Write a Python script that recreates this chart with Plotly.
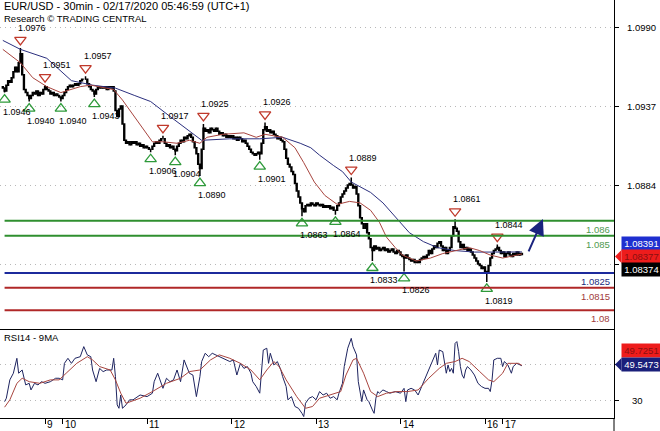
import plotly.graph_objects as go

# ---------------- data ----------------
closes = [
    1.0949, 1.0947, 1.0951, 1.0954, 1.0953, 1.0956, 1.0960, 1.0963, 1.0960, 1.0966,
    1.0972, 1.0958, 1.0948, 1.0946, 1.0944, 1.0942, 1.0944, 1.0946, 1.0945, 1.0947,
    1.0944, 1.0946, 1.0945, 1.0948, 1.0950, 1.0948, 1.0947, 1.0945, 1.0946, 1.0944,
    1.0945, 1.0944, 1.0943, 1.0942, 1.0944, 1.0946, 1.0948, 1.0950, 1.0951, 1.0950,
    1.0951, 1.0952, 1.0951, 1.0952, 1.0954, 1.0955, 1.0955, 1.0955, 1.0952, 1.0950,
    1.0948, 1.0947, 1.0945, 1.0948, 1.0950, 1.0949, 1.0950, 1.0949, 1.0950, 1.0948,
    1.0950, 1.0949, 1.0950, 1.0947, 1.0934, 1.0930, 1.0935, 1.0937, 1.0925, 1.0914,
    1.0912, 1.0913, 1.0911, 1.0913, 1.0912, 1.0913, 1.0911, 1.0912, 1.0910, 1.0911,
    1.0909, 1.0910, 1.0909, 1.0908, 1.0908, 1.0910, 1.0912, 1.0913, 1.0912, 1.0914,
    1.0915, 1.0915, 1.0912, 1.0910, 1.0911, 1.0909, 1.0910, 1.0908, 1.0907, 1.0910,
    1.0912, 1.0914, 1.0913, 1.0916, 1.0915, 1.0917, 1.0918, 1.0916, 1.0913, 1.0909,
    1.0905, 1.0898, 1.0895, 1.0908, 1.0922, 1.0920, 1.0921, 1.0919, 1.0922, 1.0921,
    1.0920, 1.0922, 1.0920, 1.0918, 1.0919, 1.0917, 1.0918, 1.0916, 1.0917, 1.0916,
    1.0917, 1.0915, 1.0916, 1.0914, 1.0916, 1.0915, 1.0913, 1.0914, 1.0912, 1.0910,
    1.0908, 1.0906, 1.0905, 1.0904, 1.0905, 1.0906, 1.0905, 1.0912, 1.0921, 1.0923,
    1.0920, 1.0921, 1.0919, 1.0920, 1.0918, 1.0917, 1.0915, 1.0916, 1.0914, 1.0913,
    1.0908, 1.0902, 1.0898, 1.0896, 1.0893, 1.0891, 1.0885, 1.0880, 1.0876, 1.0872,
    1.0868, 1.0866, 1.0870, 1.0871, 1.0870, 1.0872, 1.0871, 1.0870, 1.0872, 1.0871,
    1.0870, 1.0871, 1.0869, 1.0870, 1.0869, 1.0870, 1.0868, 1.0869, 1.0867, 1.0867,
    1.0870, 1.0872, 1.0876, 1.0878, 1.0880, 1.0882, 1.0884, 1.0885, 1.0884, 1.0882,
    1.0883, 1.0878, 1.0870, 1.0862, 1.0858, 1.0855, 1.0858, 1.0852, 1.0848, 1.0842,
    1.0840, 1.0843, 1.0841, 1.0842, 1.0840, 1.0841, 1.0842, 1.0840, 1.0841, 1.0839,
    1.0840, 1.0841, 1.0839, 1.0838, 1.0840, 1.0839, 1.0837, 1.0836, 1.0835, 1.0837,
    1.0835, 1.0834, 1.0833, 1.0834, 1.0832, 1.0833, 1.0832, 1.0834, 1.0835, 1.0836,
    1.0835, 1.0837, 1.0840, 1.0838, 1.0841, 1.0843, 1.0842, 1.0845, 1.0846, 1.0843,
    1.0840, 1.0842, 1.0838, 1.0840, 1.0842, 1.0850, 1.0856, 1.0855, 1.0853, 1.0846,
    1.0842, 1.0844, 1.0841, 1.0842, 1.0840, 1.0841, 1.0839, 1.0837, 1.0835, 1.0833,
    1.0831, 1.0830, 1.0828, 1.0829, 1.0826, 1.0825, 1.0830, 1.0835, 1.0838, 1.0840,
    1.0841, 1.0842, 1.0840, 1.0838, 1.0839, 1.0836, 1.0838, 1.0839, 1.0837, 1.0836,
    1.0838, 1.0837, 1.0839, 1.0837, 1.0838, 1.08374,
]
first_open = 1.0950

pivot_high_idx = [10, 24, 47, 91, 114, 149, 198, 257, 281]
pivot_high_val = [1.0976, 1.0951, 1.0957, 1.0917, 1.0925, 1.0926, 1.0889, 1.0861, 1.0844]
pivot_low_idx = [1, 15, 33, 52, 84, 98, 112, 146, 170, 189, 210, 228, 275]
pivot_low_val = [1.0946, 1.0940, 1.0940, 1.0943, 1.0906, 1.0904, 1.0890, 1.0901,
                 1.0863, 1.0864, 1.0833, 1.0826, 1.0819]

ma_fast_idx = [0, 10, 17, 25, 33, 38, 44, 50, 55, 63, 68, 74, 82, 85, 91, 99, 106, 112,
               116, 125, 137, 144, 149, 159, 166, 171, 177, 183, 190, 197, 203, 209, 214,
               218, 223, 227, 235, 243, 250, 258, 265, 271, 277, 284, 295]
ma_fast_val = [1.0975, 1.0966, 1.0956, 1.0950, 1.0946, 1.0948, 1.0950, 1.0951, 1.0950,
               1.0948, 1.0941, 1.0931, 1.0918, 1.0913, 1.0913, 1.0912, 1.0914, 1.0912,
               1.0916, 1.0918, 1.0919, 1.0916, 1.0918, 1.0916, 1.0909, 1.0899, 1.0886,
               1.0877, 1.0871, 1.0873, 1.0872, 1.0867, 1.0859, 1.0849, 1.0842, 1.0837,
               1.0833, 1.0835, 1.0838, 1.0840, 1.0842, 1.0840, 1.0837, 1.0835, 1.08377]

ma_slow_idx = [0, 10, 25, 39, 51, 64, 75, 84, 95, 106, 113, 129, 146, 159, 169, 175, 180,
               188, 193, 198, 203, 209, 216, 223, 231, 239, 247, 257, 268, 280, 295]
ma_slow_val = [1.0981, 1.0975, 1.0969, 1.0954, 1.0951, 1.0949, 1.0944, 1.0940, 1.0930,
               1.0920, 1.0914, 1.0915, 1.0915, 1.0916, 1.0912, 1.0909, 1.0904, 1.0897,
               1.0893, 1.0886, 1.0883, 1.0879, 1.0872, 1.0863, 1.0852, 1.0846, 1.0842,
               1.0840, 1.0839, 1.0839, 1.08391]

rsi_idx = [1, 2, 4, 6, 8, 9, 11, 13, 15, 16, 18, 20, 22, 24, 27, 30, 32, 34, 35, 37, 39,
           41, 44, 46, 48, 50, 51, 53, 55, 57, 59, 62, 63, 64, 65, 66, 67, 68, 70, 72, 74,
           78, 82, 85, 86, 88, 91, 93, 95, 97, 99, 101, 103, 104, 106, 108, 110, 112, 113,
           115, 117, 119, 121, 123, 125, 127, 129, 131, 133, 135, 137, 139, 141, 142, 144,
           146, 148, 150, 151, 152, 154, 156, 158, 159, 161, 162, 164, 166, 168, 170, 171,
           172, 174, 176, 178, 180, 182, 184, 186, 188, 190, 191, 193, 194, 196, 198, 199,
           201, 202, 204, 205, 207, 208, 210, 211, 212, 213, 214, 216, 218, 220, 223, 226,
           228, 229, 230, 232, 234, 236, 238, 240, 242, 244, 246, 247, 248, 250, 251, 252,
           253, 254, 255, 256, 257, 258, 259, 260, 261, 262, 263, 264, 266, 268, 270, 272,
           274, 276, 277, 278, 279, 281, 283, 284, 285, 287, 289, 290, 292, 294, 295]
rsi_val = [29.6, 31.5, 41.7, 45.4, 53.7, 45.4, 47.2, 38.9, 39.8, 36.1, 39.8, 38.9, 40.7,
           39.8, 40.7, 42.6, 42.6, 41.7, 50.9, 53.7, 50.9, 53.7, 54.6, 60.2, 55.6, 54.6,
           47.2, 40.7, 48.1, 46.3, 47.2, 47.2, 53.7, 43.5, 27.8, 25.9, 33.3, 25.9, 27.8,
           30.6, 30.6, 33.3, 32.4, 34.3, 40.7, 45.4, 37.0, 42.6, 40.7, 41.7, 47.2, 40.7,
           52.8, 50.0, 45.4, 44.4, 32.4, 43.5, 51.9, 56.5, 54.6, 56.5, 55.6, 54.6, 53.7,
           52.8, 51.9, 52.8, 44.4, 50.9, 48.1, 49.1, 45.4, 40.7, 38.0, 34.3, 58.3, 59.3,
           50.9, 56.5, 50.0, 51.9, 47.2, 43.5, 38.0, 30.6, 32.4, 26.9, 25.9, 23.1, 21.3,
           28.7, 31.5, 32.4, 30.6, 35.2, 33.3, 34.3, 31.5, 32.4, 30.6, 34.3, 39.8, 49.1,
           59.3, 64.8, 60.2, 55.6, 40.7, 29.6, 36.1, 30.6, 29.6, 25.0, 23.1, 31.5, 35.2,
           34.3, 36.1, 35.2, 34.3, 35.2, 34.3, 37.0, 29.6, 36.1, 37.0, 36.1, 33.3, 38.0,
           42.6, 47.2, 50.9, 56.5, 50.0, 58.3, 57.4, 50.9, 45.4, 50.0, 46.3, 48.1, 45.4,
           62.0, 63.0, 57.4, 49.1, 44.4, 42.6, 47.2, 49.1, 47.2, 44.4, 39.8, 38.0, 37.0,
           37.0, 35.2, 41.7, 52.8, 53.7, 53.7, 49.1, 51.9, 50.0, 45.4, 49.1, 50.9, 50.0,
           49.5473]

rsi_ma_idx = [1, 4, 8, 11, 15, 21, 27, 32, 36, 42, 48, 51, 55, 61, 64, 67, 70, 78, 85, 93,
              101, 106, 112, 118, 123, 129, 135, 141, 146, 150, 154, 157, 161, 167, 172,
              176, 180, 186, 192, 195, 199, 201, 205, 209, 213, 218, 224, 230, 236, 242,
              248, 252, 257, 261, 265, 271, 276, 279, 284, 287, 293, 295]
rsi_ma_val = [26.5, 30.6, 39.8, 42.6, 40.7, 39.8, 41.7, 41.7, 45.4, 50.9, 54.6, 52.8, 49.1,
              47.2, 41.7, 34.3, 28.7, 31.5, 35.2, 39.8, 42.6, 46.3, 47.2, 52.8, 55.6, 53.7,
              50.9, 47.2, 41.7, 47.2, 51.9, 49.1, 41.7, 32.4, 25.9, 26.9, 31.5, 33.3, 35.2,
              44.4, 52.8, 53.7, 45.4, 35.2, 32.4, 34.3, 35.2, 35.2, 36.1, 42.6, 48.1, 50.9,
              51.9, 53.7, 51.9, 46.3, 41.7, 40.7, 45.4, 50.9, 50.9, 49.7251]

levels = [1.086, 1.085, 1.0825, 1.0815, 1.08]
level_labels = ["1.086", "1.085", "1.0825", "1.0815", "1.08"]
level_colors = ["#2f8f2f", "#2f8f2f", "#1c2a9c", "#b02828", "#b02828"]
level_text_colors = ["#4f9a4f", "#4f9a4f", "#1c2a7c", "#a03a3a", "#a03a3a"]

day_tick_idx = [24, 34, 82, 130, 178, 226, 274, 284]
day_tick_text = ["9", "10", "11", "12", "13", "14", "16", "17"]

price_ticks = [1.0990, 1.0937, 1.0884, 1.0831]
price_tick_text = ["1.0990", "1.0937", "1.0884", ""]
rsi_ticks = [30, 50]
rsi_tick_text = ["30", ""]

last_slow, last_fast, last_close = 1.08391, 1.08377, 1.08374
rsi_ma_last, rsi_last = 49.7251, 49.5473

arrow_from = (298.4, 1.08384)
arrow_to = (306.9, 1.08612)

title_lines = ["EUR/USD - 30min - 02/17/2020 05:46:59 (UTC+1)", "Research © TRADING CENTRAL"]
rsi_title = "RSI14 - 9MA"

# ---------------- figure ----------------
W, H = 660, 431
ML, MR, MT, MB = 0, 46, 0, 13
PH = H - MT - MB            # plot height (px)
PW = W - ML - MR            # plot width (px)
SPLIT_PX = 329              # separator between panels (px from top)
split = 1 - SPLIT_PX / PH

Y0, Y1 = 1.078739, 1.100812
PX = (Y1 - Y0) / SPLIT_PX   # price per pixel
X0, X1 = -1.6, 347.3

FONT = "Liberation Sans, Arial, sans-serif"
NUM = 9

n = len(closes)
idx = list(range(n))
opens = [first_open] + closes[:-1]
highs = [max(o, c) for o, c in zip(opens, closes)]
lows = [min(o, c) for o, c in zip(opens, closes)]
for i, v in zip(pivot_high_idx, pivot_high_val):
    highs[i] = v
for i, v in zip(pivot_low_idx, pivot_low_val):
    lows[i] = v

fig = go.Figure()

fig.add_trace(go.Candlestick(
    x=idx, open=opens, high=highs, low=lows, close=closes,
    increasing=dict(line=dict(color="black", width=1.5), fillcolor="white"),
    decreasing=dict(line=dict(color="black", width=1.5), fillcolor="black"),
    whiskerwidth=0, xaxis="x", yaxis="y", showlegend=False, hoverinfo="skip"))

fig.add_trace(go.Scatter(x=ma_slow_idx, y=ma_slow_val, mode="lines",
                         line=dict(color="#2b2f7e", width=1), xaxis="x", yaxis="y",
                         showlegend=False, hoverinfo="skip"))
fig.add_trace(go.Scatter(x=ma_fast_idx, y=ma_fast_val, mode="lines",
                         line=dict(color="#a8453f", width=1), xaxis="x", yaxis="y",
                         showlegend=False, hoverinfo="skip"))

# pivot triangles
fig.add_trace(go.Scatter(
    x=pivot_high_idx, y=[v + 8 * PX for v in pivot_high_val], mode="markers",
    marker=dict(symbol="triangle-down-open", size=10, color="#c0392b", line=dict(width=1.3)),
    xaxis="x", yaxis="y", showlegend=False, hoverinfo="skip"))
fig.add_trace(go.Scatter(
    x=pivot_low_idx, y=[v - 7 * PX for v in pivot_low_val], mode="markers",
    marker=dict(symbol="triangle-up-open", size=10, color="#2e9a3a", line=dict(width=1.3)),
    xaxis="x", yaxis="y", showlegend=False, hoverinfo="skip"))

# RSI panel
fig.add_trace(go.Scatter(x=rsi_idx, y=rsi_val, mode="lines",
                         line=dict(color="#1e2460", width=1), xaxis="x2", yaxis="y2",
                         showlegend=False, hoverinfo="skip"))
fig.add_trace(go.Scatter(x=rsi_ma_idx, y=rsi_ma_val, mode="lines",
                         line=dict(color="#a8453f", width=1), xaxis="x2", yaxis="y2",
                         showlegend=False, hoverinfo="skip"))

shapes = []
annotations = []

for lv, lab, col, tcol in zip(levels, level_labels, level_colors, level_text_colors):
    shapes.append(dict(type="line", xref="x", yref="y", x0=1, x1=X1, y0=lv, y1=lv,
                       line=dict(color=col, width=2), layer="above"))
    annotations.append(dict(xref="paper", yref="y", x=612 / PW, y=lv, text=lab,
                            xanchor="right", yanchor="top", yshift=-1, showarrow=False,
                            font=dict(family=FONT, size=NUM + 0.5, color=tcol)))

for i, v in zip(pivot_high_idx, pivot_high_val):
    annotations.append(dict(xref="x", yref="y", x=i, y=v, text=f"{v:.4f}",
                            xanchor="left", yanchor="middle", xshift=-4, yshift=20,
                            showarrow=False, font=dict(family=FONT, size=NUM, color="black")))
for i, v in zip(pivot_low_idx, pivot_low_val):
    annotations.append(dict(xref="x", yref="y", x=i, y=v, text=f"{v:.4f}",
                            xanchor="left", yanchor="middle", xshift=-4, yshift=-19,
                            showarrow=False, font=dict(family=FONT, size=NUM, color="black")))

# title texts
annotations.append(dict(xref="paper", yref="paper", x=2 / PW, y=1 - 6 / PH, text=title_lines[0],
                        xanchor="left", yanchor="middle", showarrow=False,
                        font=dict(family=FONT, size=11, color="black")))
annotations.append(dict(xref="paper", yref="paper", x=2 / PW, y=1 - 19 / PH, text=title_lines[1],
                        xanchor="left", yanchor="middle", showarrow=False,
                        font=dict(family=FONT, size=9.5, color="black")))
annotations.append(dict(xref="paper", yref="paper", x=2 / PW, y=1 - 337 / PH, text=rsi_title,
                        xanchor="left", yanchor="middle", showarrow=False,
                        font=dict(family=FONT, size=9.5, color="black")))

# day labels (to the right of their tick marks)
for i, t in zip(day_tick_idx, day_tick_text):
    annotations.append(dict(xref="x2", yref="paper", x=i, y=0, text=t,
                            xanchor="left", yanchor="top", xshift=0, yshift=1,
                            showarrow=False, font=dict(family=FONT, size=10, color="black")))

# right-axis tick labels
for v, t in zip(price_ticks, price_tick_text):
    if t:
        annotations.append(dict(xref="paper", yref="y", x=625 / PW, y=v, text=t,
                                xanchor="left", yanchor="middle", showarrow=False,
                                font=dict(family=FONT, size=NUM + 0.5, color="black")))
for v, t in zip(rsi_ticks, rsi_tick_text):
    if t:
        annotations.append(dict(xref="paper", yref="y2", x=645 / PW, y=v, text=t,
                                xanchor="right", yanchor="middle", showarrow=False,
                                font=dict(family=FONT, size=NUM + 0.5, color="black")))

# arrow
annotations.append(dict(xref="x", yref="y", axref="x", ayref="y",
                        x=arrow_to[0], y=arrow_to[1], ax=arrow_from[0], ay=arrow_from[1],
                        text="", showarrow=True, arrowhead=2, arrowsize=1.6, arrowwidth=2,
                        arrowcolor="#1a237e"))

# value boxes on the right
def box(text, ypx, bg, fg):
    annotations.append(dict(xref="paper", yref="paper", x=621 / PW, y=1 - ypx / PH, text=text,
                            xanchor="left", yanchor="middle", showarrow=False,
                            bgcolor=bg, width=37, height=11, borderpad=1, align="center",
                            font=dict(family=FONT, size=NUM + 0.5, color=fg)))

def pointer(ypx, col):
    x0 = 615 / PW
    x1 = 621.5 / PW
    yc = 1 - ypx / PH
    hh = 6.5 / PH
    shapes.append(dict(type="path", xref="paper", yref="paper",
                       path=f"M {x1} {yc - hh} L {x0} {yc} L {x1} {yc + hh} Z",
                       fillcolor=col, line=dict(width=0), layer="above"))

box(f"{last_slow:.5f}", 243, "#1f2fd0", "white")
box(f"{last_fast:.5f}", 256.5, "#ee1c1c", "#8a1010")
pointer(256.5, "#ee1c1c")
box(f"{last_close:.5f}", 269.5, "black", "white")
box(f"{rsi_ma_last:.4f}", 350.5, "#ee1c1c", "#8a1010")
box(f"{rsi_last:.4f}", 364.5, "#1a1f7a", "white")
pointer(364.5, "#1a1f7a")

# extend right axis line to the bottom
shapes.append(dict(type="line", xref="paper", yref="paper", x0=1, x1=1, y0=0, y1=-MB / PH,
                   line=dict(color="black", width=1)))

GRID = dict(showgrid=True, gridcolor="#b8b8b8", griddash="1px,4px", gridwidth=1)

fig.update_layout(
    width=W, height=H,
    margin=dict(l=ML, r=MR, t=MT, b=MB, pad=0),
    paper_bgcolor="white", plot_bgcolor="white",
    showlegend=False,
    font=dict(family=FONT, size=10, color="black"),
    xaxis=dict(domain=[0, 1], range=[X0, X1], anchor="y", showline=True,
               linecolor="black", linewidth=1, showgrid=False, zeroline=False,
               showticklabels=False, ticks="", rangeslider=dict(visible=False)),
    xaxis2=dict(domain=[0, 1], range=[X0, X1], anchor="y2", matches="x", showline=True,
                linecolor="black", linewidth=1, showgrid=False, zeroline=False,
                tickmode="array", tickvals=day_tick_idx, ticktext=day_tick_text,
                showticklabels=False, ticks="outside", ticklen=5, tickcolor="black",
                rangeslider=dict(visible=False)),
    yaxis=dict(domain=[split, 1], range=[Y0, Y1], anchor="x", side="right", showline=True,
               tickmode="array", tickvals=price_ticks, ticktext=price_tick_text,
               showticklabels=False, ticks="outside", ticklen=4, tickcolor="black",
               zeroline=False, linecolor="black", linewidth=1, **GRID),
    yaxis2=dict(domain=[0, split], range=[20.5, 70], anchor="x2", side="right", showline=True,
                tickmode="array", tickvals=rsi_ticks, ticktext=rsi_tick_text,
                showticklabels=False, ticks="outside", ticklen=4, tickcolor="black",
                zeroline=False, linecolor="black", linewidth=1, **GRID),
    shapes=shapes,
    annotations=annotations,
)

fig.write_html("out.html", config={"displayModeBar": False},
               post_script="document.body.style.margin='0px';")
